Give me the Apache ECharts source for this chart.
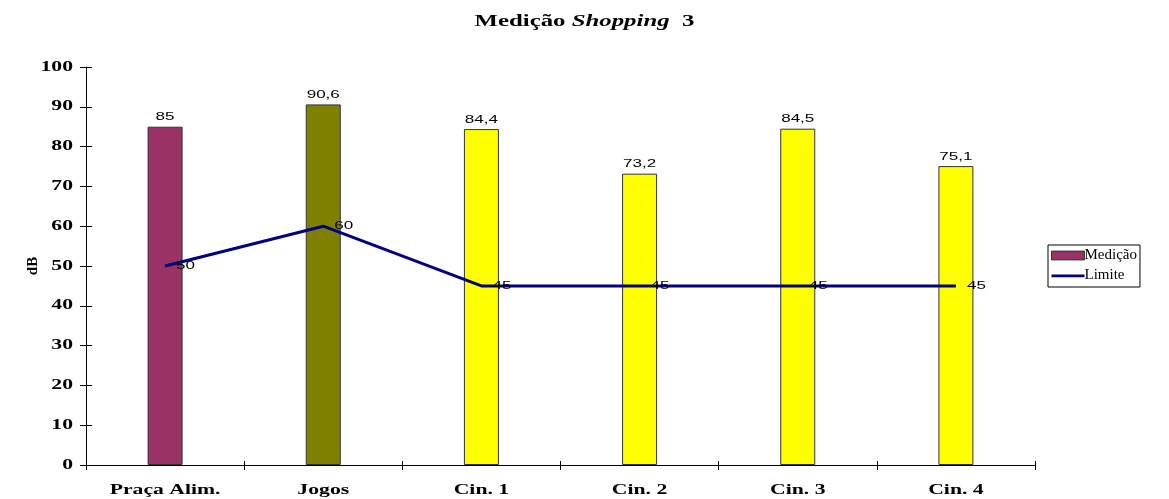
<!DOCTYPE html>
<html>
<head>
<meta charset="utf-8">
<script src="https://cdn.jsdelivr.net/npm/echarts@6/dist/echarts.min.js"></script>
<style>
  html, body { margin: 0; padding: 0; background: #fff; }
  #chart { width: 1169px; height: 499px; }
</style>
</head>
<body>
<div id="chart"></div>
<script>
// Noise measurements per location and the applicable limit (dB)
const categories = ['Praça Alim.', 'Jogos', 'Cin. 1', 'Cin. 2', 'Cin. 3', 'Cin. 4'];
const medicao = [85, 90.6, 84.4, 73.2, 84.5, 75.1];
const limite = [50, 60, 45, 45, 45, 45];
const barColors = ['#993366', '#808000', '#FFFF00', '#FFFF00', '#FFFF00', '#FFFF00'];

const serif = 'Liberation Serif, Times New Roman, serif';
const sans = 'Liberation Sans, Arial, sans-serif';
const fmt = v => String(v).replace('.', ',');

const chart = echarts.init(document.getElementById('chart'));

// Widen the chart's lettering horizontally around each label's anchor point
// (the legend entries and the rotated axis name keep their natural width).
let widened = false;
function widenText() {
  if (widened) return;
  const zr = chart.getZr();
  const list = zr.storage.getDisplayList(true);
  let count = 0;
  list.forEach(el => {
    if (!el.style || el.style.text == null) return;
    const txt = String(el.style.text);
    if (txt === 'dB' || txt === 'Medição' || txt === 'Limite') return;
    const isYLabel = el.style.align === 'right' && /^\d+$/.test(txt);
    el.scaleX = isYLabel ? 1.6 : 1.55;
    el.originX = 0;
    el.markRedraw();
    count++;
  });
  if (count) {
    widened = true;
    zr.refresh();
  }
}
chart.on('finished', widenText);

chart.setOption({
  animation: false,
  title: {
    text: '{a|Medição }{b|Shopping}{a|  3}',
    left: 'center',
    top: 9,
    textStyle: {
      rich: {
        a: { fontFamily: serif, fontWeight: 'bold', fontSize: 16, color: '#000' },
        b: { fontFamily: serif, fontWeight: 'bold', fontStyle: 'italic', fontSize: 16, color: '#000' }
      }
    }
  },
  legend: {
    orient: 'vertical',
    left: 1048,
    top: 245,
    padding: [3, 3, 4, 3],
    itemGap: 5,
    itemWidth: 33,
    itemHeight: 9,
    borderColor: '#000',
    borderWidth: 1,
    borderRadius: 0,
    textStyle: { fontFamily: serif, fontSize: 15, color: '#000', padding: [0, 0, 0, -5] },
    data: [
      { name: 'Medição', icon: 'path://M0,0H30V8H0Z', itemStyle: { color: '#993366', borderColor: '#333', borderWidth: 1 } },
      { name: 'Limite', icon: 'path://M0,3H30V5.6H0Z M0,0H0.05V0.05H0Z M0,8H0.05V7.95H0Z', itemStyle: { color: '#000080', borderWidth: 0 } }
    ]
  },
  grid: { left: 86, right: 134, top: 67, bottom: 34 },
  xAxis: [
    {
      type: 'category',
      data: categories,
      boundaryGap: true,
      axisLine: { show: true, lineStyle: { color: '#000', width: 1 } },
      axisTick: { show: true, length: 5, lineStyle: { color: '#000' } },
      axisLabel: { fontFamily: serif, fontWeight: 'bold', fontSize: 14, color: '#000', margin: 18 }
    },
    {
      type: 'category',
      data: categories,
      position: 'bottom',
      offset: 0,
      boundaryGap: true,
      axisLine: { show: false },
      axisTick: { show: true, inside: true, length: 4, lineStyle: { color: '#000' } },
      axisLabel: { show: false }
    }
  ],
  yAxis: [
    {
      type: 'value',
      min: 0,
      max: 100,
      interval: 10,
      name: 'dB',
      nameLocation: 'middle',
      nameRotate: 90,
      nameGap: 45,
      nameTextStyle: { fontFamily: serif, fontWeight: 'bold', fontSize: 15, color: '#000' },
      axisLine: { show: true, lineStyle: { color: '#000', width: 1 } },
      axisTick: { show: true, length: 6, lineStyle: { color: '#000' } },
      splitLine: { show: false },
      axisLabel: { fontFamily: serif, fontWeight: 'bold', fontSize: 14, color: '#000', margin: 13 }
    },
    {
      type: 'value',
      min: 0,
      max: 100,
      interval: 10,
      position: 'left',
      offset: 0,
      axisLine: { show: false },
      axisTick: { show: true, inside: true, length: 6, lineStyle: { color: '#000' } },
      splitLine: { show: false },
      axisLabel: { show: false }
    }
  ],
  series: [
    {
      name: 'Medição',
      type: 'bar',
      barWidth: 35,
      data: medicao.map((v, i) => ({
        value: v,
        itemStyle: { color: barColors[i], borderColor: '#333', borderWidth: 1 }
      })),
      label: {
        show: true,
        position: 'top',
        distance: 4,
        fontFamily: sans,
        fontSize: 11,
        color: '#000',
        formatter: p => fmt(p.value)
      }
    },
    {
      name: 'Limite',
      type: 'line',
      data: limite,
      symbol: 'circle',
      symbolSize: 0,
      lineStyle: { color: '#000080', width: 3 },
      itemStyle: { color: '#000080' },
      label: {
        show: true,
        position: 'right',
        distance: 11,
        fontFamily: sans,
        fontSize: 11,
        color: '#000',
        formatter: p => fmt(p.value)
      },
      z: 3
    },
    {
      // carrier for the inner tick marks of the secondary axes
      name: 'ticks',
      type: 'line',
      xAxisIndex: 1,
      yAxisIndex: 1,
      data: limite,
      symbol: 'none',
      silent: true,
      lineStyle: { opacity: 0 },
      tooltip: { show: false }
    }
  ]
});
setTimeout(widenText, 50);
</script>
</body>
</html>
